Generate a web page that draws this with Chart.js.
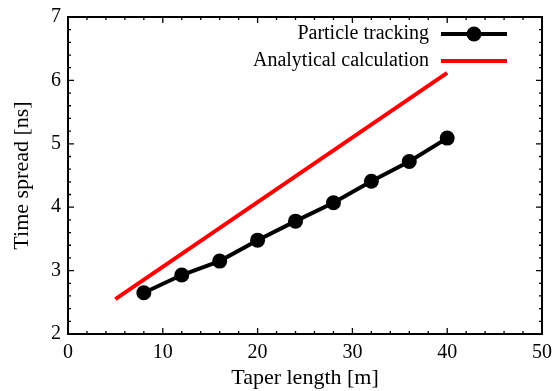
<!DOCTYPE html>
<html lang="en">
<head>
    <meta charset="UTF-8">
    <title>Time spread vs taper length</title>
    <script src="https://cdn.jsdelivr.net/npm/chart.js@4.4.2/dist/chart.umd.min.js"></script>
    <style>
        body { margin: 0; background: #fff; }
        #wrap { width: 555px; height: 391px; }
    </style>
</head>
<body>
    <div id="wrap"><canvas id="spreadchart"></canvas></div>

    <script>
        // values
        var taperLength = [8, 12, 16, 20, 24, 28, 32, 36, 40];
        var trackingSpread = [2.65, 2.93, 3.15, 3.48, 3.78, 4.07, 4.41, 4.72, 5.09];
        var analyticalLength = [5, 40];
        var analyticalSpread = [2.55, 6.12];

        var xTicks = [0, 10, 20, 30, 40, 50];
        var yTicks = [2, 3, 4, 5, 6, 7];

        const serif = 'Liberation Serif';

        function toPoints(xs, ys) {
            return xs.map((x, i) => ({ x: x, y: ys[i] }));
        }

        // frame + inward ticks on all four sides
        const frameTicks = {
            id: 'frameTicks',
            afterDatasetsDraw(chart) {
                const c = chart.ctx;
                const a = chart.chartArea;
                const sx = chart.scales.x, sy = chart.scales.y;
                c.save();
                c.strokeStyle = '#000';
                c.lineWidth = 1.3;
                for (let v = 0; v <= 50.001; v += 2) {
                    const px = sx.getPixelForValue(v);
                    const len = (Math.round(v) % 10 === 0) ? 6 : 3;
                    c.beginPath();
                    c.moveTo(px, a.bottom); c.lineTo(px, a.bottom - len);
                    c.moveTo(px, a.top); c.lineTo(px, a.top + len);
                    c.stroke();
                }
                for (let i = 0; i <= 25; i++) {
                    const v = 2 + i * 0.2;
                    const py = sy.getPixelForValue(v);
                    const len = (i % 5 === 0) ? 6 : 3;
                    c.beginPath();
                    c.moveTo(a.left, py); c.lineTo(a.left + len, py);
                    c.moveTo(a.right, py); c.lineTo(a.right - len, py);
                    c.stroke();
                }
                c.lineWidth = 2;
                c.strokeRect(a.left, a.top, a.right - a.left, a.bottom - a.top);
                c.restore();
            }
        };

        // legend: text right aligned, sample on the right
        const sideLegend = {
            id: 'sideLegend',
            afterDraw(chart) {
                const c = chart.ctx;
                const rows = [34, 61];
                c.save();
                c.font = '20px ' + serif;
                c.textAlign = 'right';
                c.textBaseline = 'middle';
                chart.data.datasets.forEach((ds, i) => {
                    const y = rows[i];
                    c.fillStyle = '#000';
                    c.fillText(ds.label, 429, y);
                    c.strokeStyle = ds.borderColor;
                    c.lineWidth = ds.borderWidth;
                    c.beginPath();
                    c.moveTo(441, y); c.lineTo(507, y);
                    c.stroke();
                    if (ds.pointRadius > 0) {
                        c.fillStyle = ds.pointBackgroundColor;
                        c.beginPath();
                        c.arc(474, y, ds.pointRadius, 0, Math.PI * 2);
                        c.fill();
                    }
                });
                c.restore();
            }
        };

        const ctx = document.getElementById('spreadchart');

        new Chart(ctx, {
            type: 'scatter',
            data: {
                datasets: [{
                    label: 'Particle tracking',
                    data: toPoints(taperLength, trackingSpread),
                    showLine: true,
                    borderColor: '#000',
                    borderWidth: 4,
                    pointRadius: 7.5,
                    pointBackgroundColor: '#000',
                    pointBorderWidth: 0,
                    pointHoverRadius: 7.5
                }, {
                    label: 'Analytical calculation',
                    data: toPoints(analyticalLength, analyticalSpread),
                    showLine: true,
                    borderColor: '#ff0000',
                    borderWidth: 4,
                    pointRadius: 0,
                    pointBackgroundColor: '#ff0000'
                }]
            },
            options: {
                responsive: true,
                maintainAspectRatio: false,
                animation: false,
                layout: { padding: { top: 17, right: 13, left: 0, bottom: 0 } },
                plugins: {
                    legend: { display: false },
                    tooltip: { enabled: false }
                },
                scales: {
                    x: {
                        type: 'linear',
                        min: 0,
                        max: 50,
                        afterFit(s) { s.height = 57; s.paddingLeft = 0; s.paddingRight = 0; },
                        afterBuildTicks(s) { s.ticks = xTicks.map(v => ({ value: v })); },
                        grid: { display: false, drawTicks: false },
                        border: { display: false },
                        ticks: { font: { family: serif, size: 20 }, color: '#000', padding: 7, maxRotation: 0 },
                        title: { display: true, text: 'Taper length [m]', font: { family: serif, size: 22 }, color: '#000', padding: 0 }
                    },
                    y: {
                        type: 'linear',
                        min: 2,
                        max: 7,
                        afterFit(s) { s.width = 68; s.paddingTop = 0; s.paddingBottom = 0; },
                        afterBuildTicks(s) { s.ticks = yTicks.map(v => ({ value: v })); },
                        grid: { display: false, drawTicks: false },
                        border: { display: false },
                        ticks: { font: { family: serif, size: 20 }, color: '#000', padding: 7 },
                        title: { display: true, text: 'Time spread [ns]', font: { family: serif, size: 22 }, color: '#000', padding: { top: 9, bottom: 0 } }
                    }
                }
            },
            plugins: [frameTicks, sideLegend]
        });
    </script>
</body>
</html>
